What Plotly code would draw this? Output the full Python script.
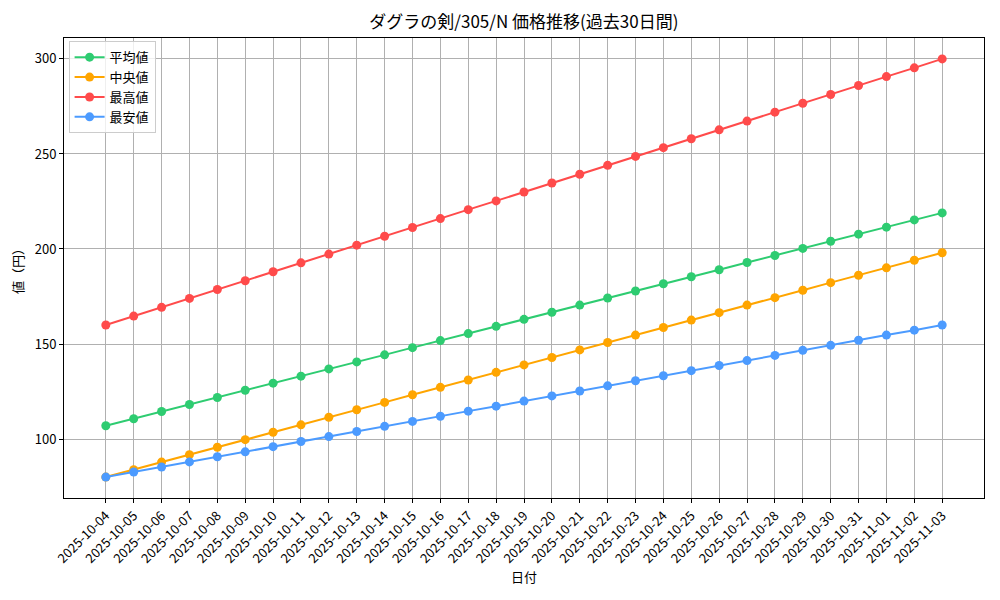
import plotly.graph_objects as go

dates = ["2025-10-04", "2025-10-05", "2025-10-06", "2025-10-07", "2025-10-08", "2025-10-09",
         "2025-10-10", "2025-10-11", "2025-10-12", "2025-10-13", "2025-10-14", "2025-10-15",
         "2025-10-16", "2025-10-17", "2025-10-18", "2025-10-19", "2025-10-20", "2025-10-21",
         "2025-10-22", "2025-10-23", "2025-10-24", "2025-10-25", "2025-10-26", "2025-10-27",
         "2025-10-28", "2025-10-29", "2025-10-30", "2025-10-31", "2025-11-01", "2025-11-02",
         "2025-11-03"]

avg_vals = [107, 110.7, 114.5, 118.2, 121.9, 125.7, 129.4, 133.1, 136.9, 140.6, 144.3, 148.1,
            151.8, 155.5, 159.3, 163, 166.7, 170.5, 174.2, 177.9, 181.7, 185.4, 189.1, 192.9,
            196.6, 200.3, 204.1, 207.8, 211.5, 215.3, 219]
median_vals = [80, 83.9, 87.9, 91.8, 95.7, 99.7, 103.6, 107.5, 111.5, 115.4, 119.3, 123.3,
               127.2, 131.1, 135.1, 139, 142.9, 146.9, 150.8, 154.7, 158.7, 162.6, 166.5, 170.5,
               174.4, 178.3, 182.3, 186.2, 190.1, 194.1, 198]
max_vals = [160, 164.7, 169.3, 174, 178.7, 183.3, 188, 192.7, 197.3, 202, 206.7, 211.3,
            216, 220.7, 225.3, 230, 234.7, 239.3, 244, 248.7, 253.3, 258, 262.7, 267.3,
            272, 276.7, 281.3, 286, 290.7, 295.3, 300]
min_vals = [80, 82.7, 85.3, 88, 90.7, 93.3, 96, 98.7, 101.3, 104, 106.7, 109.3,
            112, 114.7, 117.3, 120, 122.7, 125.3, 128, 130.7, 133.3, 136, 138.7, 141.3,
            144, 146.7, 149.3, 152, 154.7, 157.3, 160]

series = [
    ("平均値", avg_vals, "#2ecc71"),
    ("中央値", median_vals, "#ffa500"),
    ("最高値", max_vals, "#ff4b4b"),
    ("最安値", min_vals, "#4c9bff"),
]

FONT = "Noto Sans CJK JP"

fig = go.Figure()
for name, vals, color in series:
    fig.add_trace(go.Scatter(
        x=dates, y=vals, name=name, mode="lines+markers",
        line=dict(color=color, width=2),
        marker=dict(color=color, size=9),
    ))

axis_common = dict(
    showline=True, linecolor="black", linewidth=1, mirror=True,
    ticks="outside", ticklen=4, tickcolor="black",
    showgrid=True, gridcolor="#b0b0b0", gridwidth=1,
    zeroline=False, automargin=False,
    tickfont=dict(family=FONT, size=13, color="black"),
)

fig.update_layout(
    width=992, height=592,
    paper_bgcolor="white", plot_bgcolor="white",
    margin=dict(l=56, r=16, t=30, b=102),
    font=dict(family=FONT, size=13, color="black"),
    title=dict(text="ダグラの剣/305/N 価格推移(過去30日間)", x=0.520, xanchor="center",
               y=0.976, yanchor="middle", font=dict(family=FONT, size=17, color="black")),
    showlegend=True,
    legend=dict(x=0.005, y=0.993, xanchor="left", yanchor="top",
                bgcolor="rgba(255,255,255,0.8)", bordercolor="#cccccc", borderwidth=1,
                font=dict(family=FONT, size=13), tracegroupgap=0, itemwidth=30),
)

fig.update_xaxes(**axis_common, type="category", tickangle=-45,
                 range=[-1.5, 31.5],
                 title=dict(text="日付", font=dict(family=FONT, size=13), standoff=4))
fig.update_yaxes(**axis_common, range=[69, 311], tickvals=[100, 150, 200, 250, 300],
                 title=dict(text="値（円）", font=dict(family=FONT, size=13), standoff=10))

fig.write_html("out.html")
